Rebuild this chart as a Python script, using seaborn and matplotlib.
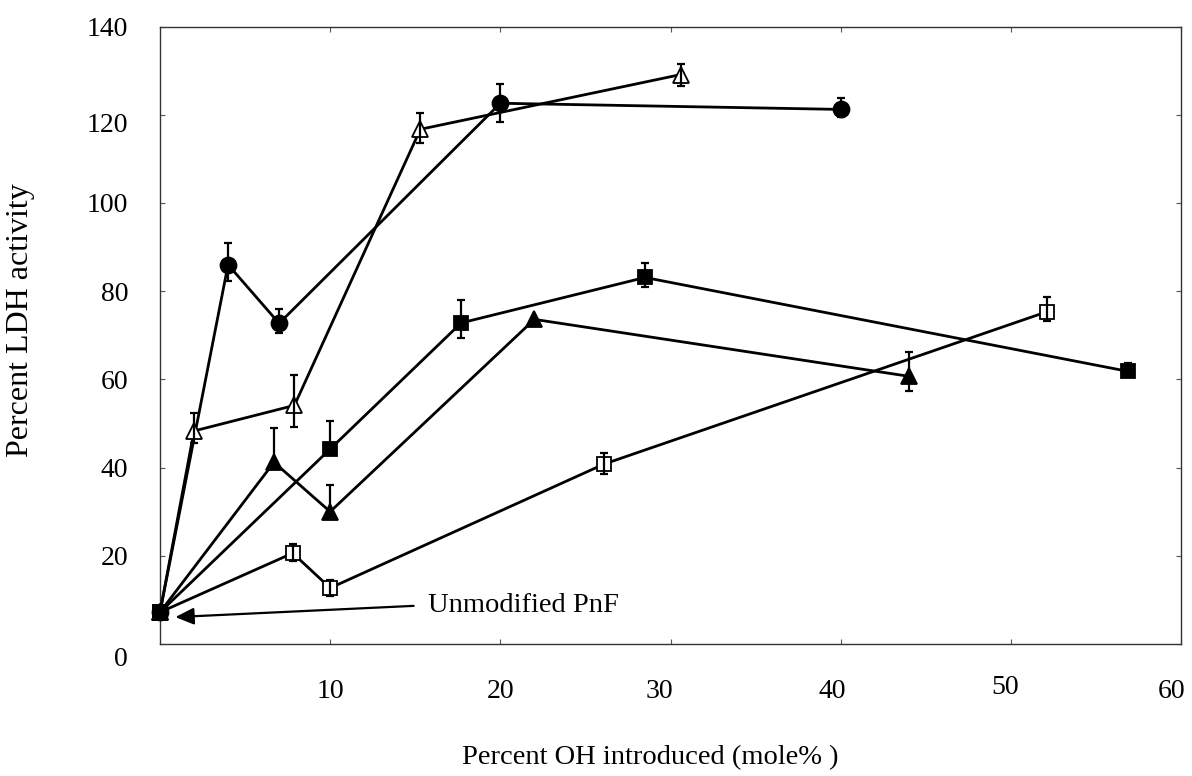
import numpy as np
import pandas as pd
import matplotlib
matplotlib.use("Agg")
import matplotlib.pyplot as plt
import matplotlib.transforms as mtransforms
import seaborn as sns

# ---- data ----
circle_x = [0, 4, 7, 20, 40]
circle_y = [7.2, 86.0, 72.7, 122.6, 121.2]
circle_lo = [0, 3.6, 2.2, 4.3, 1.8]
circle_hi = [0, 5.0, 3.2, 4.4, 2.5]

otri_x = [0, 2, 7.9, 15.3, 30.6]
otri_y = [7.2, 48.3, 54.1, 116.7, 129.1]
otri_lo = [0, 2.8, 5.0, 3.2, 2.7]
otri_hi = [0, 4.0, 7.0, 3.6, 2.5]

fsq_x = [0, 10, 17.7, 28.5, 56.9]
fsq_y = [7.2, 44.2, 72.8, 83.1, 61.8]
fsq_lo = [0, 1.0, 3.5, 2.2, 1.0]
fsq_hi = [0, 6.3, 5.1, 3.2, 1.9]

ftri_x = [0, 6.7, 10, 22, 44]
ftri_y = [7.2, 41.2, 30.0, 73.6, 60.7]
ftri_lo = [0, 1.0, 1.0, 0.0, 3.4]
ftri_hi = [0, 7.7, 6.0, 0.0, 5.4]

osq_x = [0, 7.8, 10, 26.1, 52.1]
osq_y = [7.2, 20.6, 12.7, 40.8, 75.3]
osq_lo = [0, 1.8, 1.8, 2.3, 2.1]
osq_hi = [0, 2.0, 1.8, 2.5, 3.4]

x_ticks = [10, 20, 30, 40, 50, 60]
y_ticks = [0, 20, 40, 60, 80, 100, 120, 140]

x_label = "Percent OH introduced (mole% )"
y_label = "Percent LDH activity"
note_text = "Unmodified PnF"

series = [
    ("circle", circle_x, circle_y, circle_lo, circle_hi, "o", "black", 11.5),
    ("otri", otri_x, otri_y, otri_lo, otri_hi, "^", "white", 11.0),
    ("fsq", fsq_x, fsq_y, fsq_lo, fsq_hi, "s", "black", 10.0),
    ("ftri", ftri_x, ftri_y, ftri_lo, ftri_hi, "^", "black", 11.0),
    ("osq", osq_x, osq_y, osq_lo, osq_hi, "s", "white", 10.0),
]

sns.set_theme(style="ticks")
plt.rcParams["font.family"] = ["Liberation Serif", "DejaVu Serif"]
plt.rcParams["font.size"] = 20
plt.rcParams["text.color"] = "black"
plt.rcParams["axes.labelcolor"] = "black"
plt.rcParams["xtick.labelcolor"] = "black"
plt.rcParams["ytick.labelcolor"] = "black"

fig = plt.figure(figsize=(11.92, 7.76), dpi=100)
ax = fig.add_axes([160 / 1192, (776 - 644) / 776, (1181 - 160) / 1192, (644 - 26.5) / 776])

for name, xs, ys, lo, hi, mk, fc, ms in series:
    df = pd.DataFrame({"x": xs, "y": ys})
    sns.lineplot(data=df, x="x", y="y", ax=ax, sort=False, color="black",
                 linewidth=2.0, marker=mk, markersize=ms, markerfacecolor=fc,
                 markeredgecolor="black", markeredgewidth=1.3, zorder=3,
                 clip_on=False)
    xe = np.array(xs[1:])
    ye = np.array(ys[1:])
    err = np.array([lo[1:], hi[1:]])
    ax.errorbar(xe, ye, yerr=err, fmt="none", ecolor="black", elinewidth=1.6,
                capsize=3, capthick=1.6, zorder=4)

# unmodified start point on top
ax.plot([circle_x[0]], [circle_y[0]], marker="s", markersize=10, color="black",
        zorder=6, clip_on=False, linestyle="none")

ax.annotate(note_text, xy=(0.9, 6.1), xytext=(15.75, 8.8), fontsize=20.5,
            ha="left", va="center",
            arrowprops=dict(arrowstyle="-|>,head_length=0.55,head_width=0.25",
                            color="black", lw=1.6, shrinkA=8, shrinkB=0,
                            relpos=(0, 0.5)))

ax.set_xlim(0, 60)
ax.set_ylim(0, 140)
ax.set_xticks(x_ticks)
ax.set_xticklabels([str(v) for v in x_ticks])
ax.set_yticks(y_ticks)
ax.set_yticklabels([str(v) for v in y_ticks])

for s in ax.spines.values():
    s.set_visible(True)
    s.set_color("#333333")
    s.set_linewidth(1.0)

ax.tick_params(axis="x", direction="in", length=3.5, width=0.8, color="#555555",
               top=True, bottom=True, labelsize=20, pad=25)
ax.tick_params(axis="y", direction="in", length=3.5, width=0.8, color="#555555",
               left=True, right=True, labelsize=20, pad=23)

ax.set_xlabel(x_label, fontsize=20.5)
ax.set_ylabel(y_label, fontsize=23)
ax.xaxis.set_label_coords(0.48, -0.164)
ax.yaxis.set_label_coords(-0.122, 0.525)

# small label offsets (pixels) as seen in the reference
x_off = {"30": (-11, 0), "40": (-8, 0), "50": (-6, 4), "60": (-9, 0)}
y_off = {"0": (0, -12), "120": (0, -8)}
for lab in ax.get_xticklabels():
    if lab.get_text() in x_off:
        dx, dy = x_off[lab.get_text()]
        lab.set_transform(lab.get_transform() + mtransforms.ScaledTranslation(dx / 100, dy / 100, fig.dpi_scale_trans))
for lab in ax.get_yticklabels():
    if lab.get_text() in y_off:
        dx, dy = y_off[lab.get_text()]
        lab.set_transform(lab.get_transform() + mtransforms.ScaledTranslation(dx / 100, dy / 100, fig.dpi_scale_trans))

fig.savefig("out.png", dpi=100)
